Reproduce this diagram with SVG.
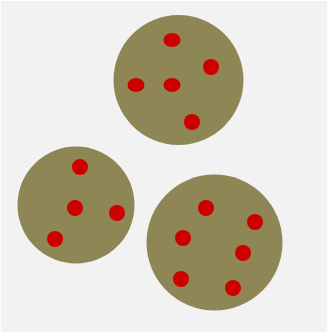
<svg xmlns="http://www.w3.org/2000/svg" width="327" height="333" viewBox="0 0 327 333">
<style>
.cell{fill:#8f8656}
.dot{fill:#cc0000}
</style>
<rect width="327" height="333" fill="#ffffff"/>
<rect x="1" y="1" width="326" height="331" fill="#f2f2f2"/>
<g id="cell1">
<circle class="cell" cx="178.5" cy="80" r="65"/>
<ellipse class="dot" cx="172" cy="40" rx="8.5" ry="7"/>
<ellipse class="dot" cx="211" cy="67" rx="8" ry="8"/>
<ellipse class="dot" cx="136" cy="85" rx="8.5" ry="7"/>
<ellipse class="dot" cx="172" cy="85" rx="8.5" ry="7"/>
<ellipse class="dot" cx="192" cy="122" rx="8" ry="8"/>
</g>
<g id="cell2">
<circle class="cell" cx="76" cy="205" r="58.5"/>
<ellipse class="dot" cx="80" cy="167" rx="8" ry="8"/>
<ellipse class="dot" cx="75" cy="208" rx="8" ry="8"/>
<ellipse class="dot" cx="117" cy="213" rx="8" ry="8"/>
<ellipse class="dot" cx="55" cy="239" rx="8" ry="8"/>
</g>
<g id="cell3">
<circle class="cell" cx="214.5" cy="242.5" r="68"/>
<ellipse class="dot" cx="206" cy="208" rx="8" ry="8"/>
<ellipse class="dot" cx="255" cy="222" rx="8" ry="8"/>
<ellipse class="dot" cx="183" cy="238" rx="8" ry="8"/>
<ellipse class="dot" cx="243" cy="253" rx="8" ry="8"/>
<ellipse class="dot" cx="181" cy="279" rx="8" ry="8"/>
<ellipse class="dot" cx="233" cy="288" rx="8" ry="8"/>
</g>
</svg>
